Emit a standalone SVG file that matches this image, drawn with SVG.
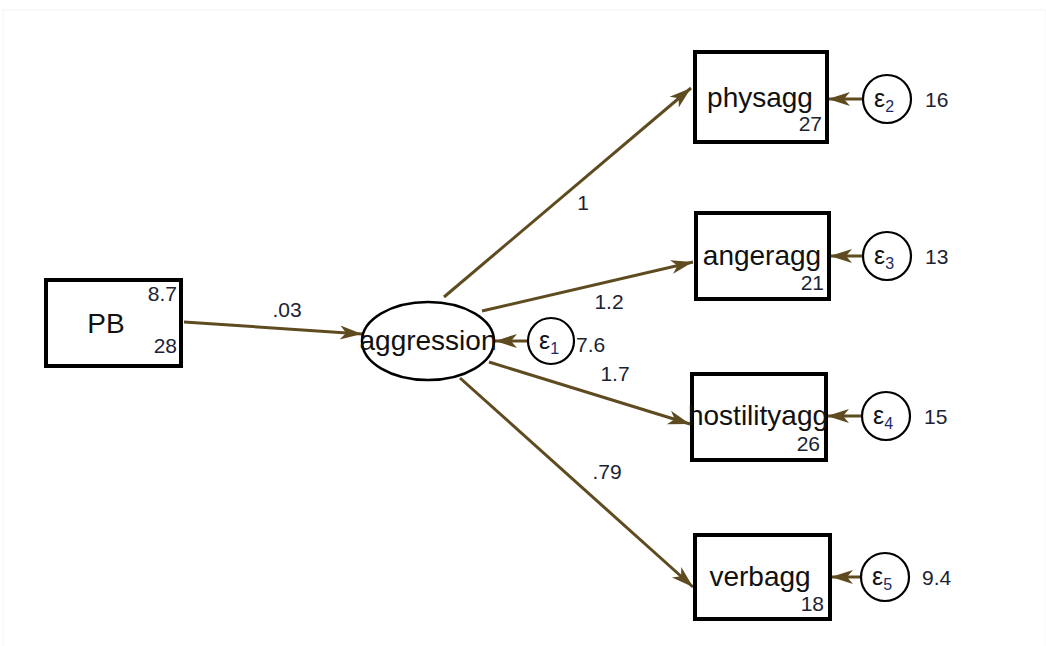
<svg xmlns="http://www.w3.org/2000/svg" width="1046" height="646" viewBox="0 0 1046 646">
  <style>
    .box { fill: #ffffff; stroke: #000000; stroke-width: 4; }
    .lat { fill: #ffffff; stroke: #000000; stroke-width: 2.5; }
    .err { fill: #ffffff; stroke: #000000; stroke-width: 2.2; }
    .path { stroke: #5f4b20; stroke-width: 3; fill: none; marker-end: url(#head); }
    .lbl { font-family: "Liberation Sans", Arial, sans-serif; font-size: 28px; fill: #111111; }
    .num { font-family: "Liberation Sans", Arial, sans-serif; font-size: 21px; fill: #1b2333; }
    .eps { font-family: "Liberation Sans", Arial, sans-serif; font-size: 25px; fill: #111111; }
    .sub { font-size: 16px; fill: #1b2a6a; }
  </style>
  <defs>
    <marker id="head" markerUnits="userSpaceOnUse" markerWidth="24" markerHeight="16" refX="22" refY="8" orient="auto">
      <path d="M0,1 L22,8 L0,15 L6,8 z" fill="#5f4b20"/>
    </marker>
  </defs>

  <rect width="1046" height="646" fill="#ffffff"/>
  <rect x="3" y="10" width="1043" height="640" fill="none" stroke="#f3f3f3" stroke-width="1"/>

  <!-- paths -->
  <g id="connectors">
    <line class="path" x1="184" y1="322" x2="362" y2="334"/>
    <line class="path" x1="444" y1="297" x2="691" y2="88"/>
    <line class="path" x1="482" y1="311" x2="693" y2="262"/>
    <line class="path" x1="489" y1="362" x2="690" y2="424"/>
    <line class="path" x1="460" y1="378" x2="693" y2="587"/>
    <line class="path" x1="529" y1="341" x2="495" y2="341"/>
    <line class="path" x1="863" y1="99" x2="828" y2="99"/>
    <line class="path" x1="863" y1="256" x2="830" y2="256"/>
    <line class="path" x1="862" y1="416" x2="827" y2="416"/>
    <line class="path" x1="861" y1="577" x2="831" y2="577"/>
    <text class="num" x="287" y="317" text-anchor="middle">.03</text>
    <text class="num" x="583" y="210" text-anchor="middle">1</text>
    <text class="num" x="609" y="309" text-anchor="middle">1.2</text>
    <text class="num" x="615" y="381" text-anchor="middle">1.7</text>
    <text class="num" x="607" y="479" text-anchor="middle">.79</text>
  </g>

  <!-- observed exogenous variable -->
  <g id="PB">
    <rect class="box" x="46" y="280" width="135" height="86"/>
    <text class="lbl" x="106" y="333" text-anchor="middle">PB</text>
    <text class="num" x="177" y="301" text-anchor="end">8.7</text>
    <text class="num" x="177" y="353" text-anchor="end">28</text>
  </g>

  <!-- latent variable -->
  <g id="aggression">
    <ellipse class="lat" cx="428" cy="341" rx="66" ry="39"/>
    <text class="lbl" x="428" y="350" text-anchor="middle">aggression</text>
  </g>

  <g id="e1">
    <circle class="err" cx="551" cy="341" r="23"/>
    <text class="eps" x="549" y="349" text-anchor="middle">ε<tspan class="sub" dy="5">1</tspan></text>
    <text class="num" x="576" y="352">7.6</text>
  </g>

  <!-- indicators -->
  <g id="physagg">
    <rect class="box" x="695" y="52" width="132" height="90"/>
    <text class="lbl" x="760" y="107" text-anchor="middle">physagg</text>
    <text class="num" x="822" y="131" text-anchor="end">27</text>
  </g>
  <g id="angeragg">
    <rect class="box" x="696" y="213" width="133" height="86"/>
    <text class="lbl" x="762" y="265" text-anchor="middle">angeragg</text>
    <text class="num" x="824" y="290" text-anchor="end">21</text>
  </g>
  <g id="hostilityagg">
    <rect class="box" x="692" y="374" width="134" height="86"/>
    <text class="lbl" x="758" y="425" text-anchor="middle">hostilityagg</text>
    <text class="num" x="820" y="451" text-anchor="end">26</text>
  </g>
  <g id="verbagg">
    <rect class="box" x="695" y="535" width="135" height="84"/>
    <text class="lbl" x="760" y="586" text-anchor="middle">verbagg</text>
    <text class="num" x="824" y="611" text-anchor="end">18</text>
  </g>

  <!-- error terms -->
  <g id="e2">
    <circle class="err" cx="887" cy="99" r="24"/>
    <text class="eps" x="884" y="107" text-anchor="middle">ε<tspan class="sub" dy="5">2</tspan></text>
    <text class="num" x="925" y="107">16</text>
  </g>
  <g id="e3">
    <circle class="err" cx="887" cy="256" r="24"/>
    <text class="eps" x="884" y="264" text-anchor="middle">ε<tspan class="sub" dy="5">3</tspan></text>
    <text class="num" x="925" y="264">13</text>
  </g>
  <g id="e4">
    <circle class="err" cx="886" cy="416" r="24"/>
    <text class="eps" x="883" y="424" text-anchor="middle">ε<tspan class="sub" dy="5">4</tspan></text>
    <text class="num" x="924" y="424">15</text>
  </g>
  <g id="e5">
    <circle class="err" cx="885" cy="577" r="24"/>
    <text class="eps" x="882" y="585" text-anchor="middle">ε<tspan class="sub" dy="5">5</tspan></text>
    <text class="num" x="922" y="585">9.4</text>
  </g>
</svg>
